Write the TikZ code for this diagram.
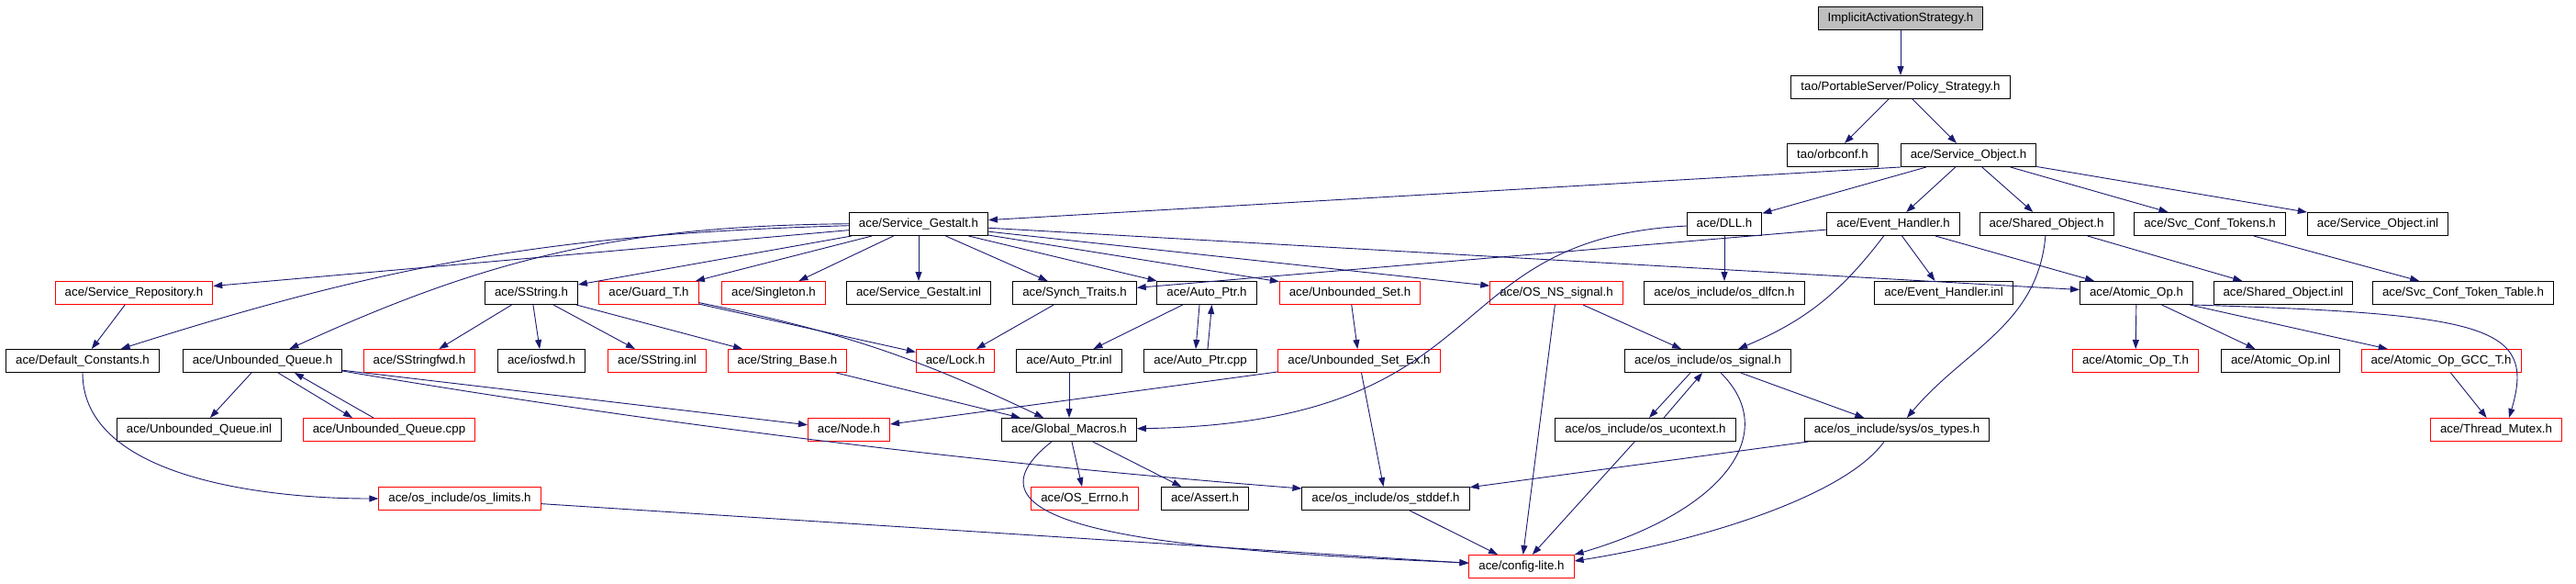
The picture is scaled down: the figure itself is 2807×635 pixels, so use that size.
\documentclass[tikz,border=0pt]{standalone}
\usepackage{fontspec}
\setmainfont{Liberation Sans}
\usetikzlibrary{arrows.meta, positioning}
\definecolor{edgeblue}{HTML}{191970}

\begin{document}
\begin{tikzpicture}[
    x=1pt, y=1pt,
    file_node/.style={draw=black, line width=1pt, inner xsep=10.5pt, inner ysep=6.3pt, text height=9.5pt, text depth=2.9pt, font=\fontsize{13.3}{16}\selectfont},
    red_node/.style={file_node, draw=red},
    root_node/.style={file_node, fill=gray!50},
    inc_edge/.style={draw=edgeblue, line width=0.9pt, -{Stealth[length=10pt, width=7pt, inset=0pt]}}
]
\useasboundingbox (0,0) rectangle (2807,-635);

% Rows 1 to 3 - the strategy header and its direct includes
\node[root_node] (implicit) at (2071,-20) {ImplicitActivationStrategy.h};
\node[file_node] (policy) at (2071,-95) {tao/PortableServer/Policy\_Strategy.h};
\node[file_node] (orbconf) at (1997,-169) {tao/orbconf.h};
\node[file_node] (svcobj) at (2145,-169) {ace/Service\_Object.h};

% Row 4
\node[file_node] (gestalt) at (1001,-244) {ace/Service\_Gestalt.h};
\node[file_node] (dll) at (1879,-244) {ace/DLL.h};
\node[file_node] (evh) at (2063,-244) {ace/Event\_Handler.h};
\node[file_node] (shobj) at (2230,-244) {ace/Shared\_Object.h};
\node[file_node] (tokens) at (2408,-244) {ace/Svc\_Conf\_Tokens.h};
\node[file_node] (svcobjinl) at (2591,-244) {ace/Service\_Object.inl};

% Row 5
\node[red_node] (repo) at (146,-319) {ace/Service\_Repository.h};
\node[file_node] (sstring) at (579,-319) {ace/SString.h};
\node[red_node] (guard) at (707,-319) {ace/Guard\_T.h};
\node[red_node] (singleton) at (843,-319) {ace/Singleton.h};
\node[file_node] (gestaltinl) at (1001,-319) {ace/Service\_Gestalt.inl};
\node[file_node] (synch) at (1171,-319) {ace/Synch\_Traits.h};
\node[file_node] (autoptr) at (1315,-319) {ace/Auto\_Ptr.h};
\node[red_node] (uset) at (1471,-319) {ace/Unbounded\_Set.h};
\node[red_node] (nssignal) at (1696,-319) {ace/OS\_NS\_signal.h};
\node[file_node] (dlfcn) at (1879,-319) {ace/os\_include/os\_dlfcn.h};
\node[file_node] (evhinl) at (2118,-319) {ace/Event\_Handler.inl};
\node[file_node] (atomic) at (2328,-319) {ace/Atomic\_Op.h};
\node[file_node] (shobjinl) at (2488,-319) {ace/Shared\_Object.inl};
\node[file_node] (tokentable) at (2684,-319) {ace/Svc\_Conf\_Token\_Table.h};

% Row 6
\node[file_node] (defconst) at (90,-393) {ace/Default\_Constants.h};
\node[file_node] (uqueue) at (286,-393) {ace/Unbounded\_Queue.h};
\node[red_node] (sstringfwd) at (457,-393) {ace/SStringfwd.h};
\node[file_node] (iosfwd) at (590,-393) {ace/iosfwd.h};
\node[red_node] (sstringinl) at (716,-393) {ace/SString.inl};
\node[red_node] (strbase) at (858,-393) {ace/String\_Base.h};
\node[red_node] (lock) at (1041,-393) {ace/Lock.h};
\node[file_node] (autoptrinl) at (1165,-393) {ace/Auto\_Ptr.inl};
\node[file_node] (autoptrcpp) at (1308,-393) {ace/Auto\_Ptr.cpp};
\node[red_node] (usetex) at (1481,-393) {ace/Unbounded\_Set\_Ex.h};
\node[file_node] (ossignal) at (1861,-393) {ace/os\_include/os\_signal.h};
\node[red_node] (atomict) at (2327,-393) {ace/Atomic\_Op\_T.h};
\node[file_node] (atomicinl) at (2485,-393) {ace/Atomic\_Op.inl};
\node[red_node] (atomicgcc) at (2660,-393) {ace/Atomic\_Op\_GCC\_T.h};

% Row 7
\node[file_node] (uqueueinl) at (217,-468) {ace/Unbounded\_Queue.inl};
\node[red_node] (uqueuecpp) at (424,-468) {ace/Unbounded\_Queue.cpp};
\node[red_node] (node) at (925,-468) {ace/Node.h};
\node[file_node] (gmacros) at (1165,-468) {ace/Global\_Macros.h};
\node[file_node] (ucontext) at (1793,-468) {ace/os\_include/os\_ucontext.h};
\node[file_node] (ostypes) at (2067,-468) {ace/os\_include/sys/os\_types.h};
\node[red_node] (mutex) at (2720,-468) {ace/Thread\_Mutex.h};

% Rows 8 and 9
\node[red_node] (limits) at (501,-543) {ace/os\_include/os\_limits.h};
\node[red_node] (errno) at (1182,-543) {ace/OS\_Errno.h};
\node[file_node] (assert) at (1313,-543) {ace/Assert.h};
\node[file_node] (stddef) at (1510,-543) {ace/os\_include/os\_stddef.h};
\node[red_node] (config) at (1658,-617) {ace/config-lite.h};

% Includes of the upper headers
\draw[inc_edge] (implicit) -- (policy);
\draw[inc_edge] (policy) -- (orbconf);
\draw[inc_edge] (policy) -- (svcobj);
\draw[inc_edge] (svcobj.south west) -- (gestalt);
\draw[inc_edge] (svcobj) -- (dll);
\draw[inc_edge] (svcobj) -- (evh);
\draw[inc_edge] (svcobj) -- (shobj);
\draw[inc_edge] (svcobj) -- (tokens);
\draw[inc_edge] (svcobj) -- (svcobjinl);

% Fan out of Service_Gestalt.h
\draw[inc_edge] (gestalt) -- (repo);
\draw[inc_edge] (gestalt) to[bend right=8] (defconst);
\draw[inc_edge] (gestalt) to[bend right=12] (uqueue);
\draw[inc_edge] (gestalt) -- (sstring);
\draw[inc_edge] (gestalt) -- (guard);
\draw[inc_edge] (gestalt) -- (singleton);
\draw[inc_edge] (gestalt) -- (gestaltinl);
\draw[inc_edge] (gestalt) -- (synch);
\draw[inc_edge] (gestalt) -- (autoptr);
\draw[inc_edge] (gestalt) -- (uset);
\draw[inc_edge] (gestalt) -- (nssignal);
\draw[inc_edge] (gestalt) -- (atomic);

% DLL, Event_Handler, Shared_Object, Svc_Conf_Tokens
\draw[inc_edge] (dll) .. controls +(-319,-16) and +(475,8) .. (gmacros);
\draw[inc_edge] (dll) -- (dlfcn);
\draw[inc_edge] (evh) -- (synch);
\draw[inc_edge] (evh) to[bend left=15] (ossignal);
\draw[inc_edge] (evh) -- (evhinl);
\draw[inc_edge] (evh) -- (atomic);
\draw[inc_edge] (shobj) to[out=-95, in=50] (ostypes);
\draw[inc_edge] (shobj) -- (shobjinl);
\draw[inc_edge] (tokens) -- (tokentable);

% Row 5 headers
\draw[inc_edge] (repo) -- (defconst);
\draw[inc_edge] (sstring) -- (sstringfwd);
\draw[inc_edge] (sstring) -- (iosfwd);
\draw[inc_edge] (sstring) -- (sstringinl);
\draw[inc_edge] (sstring) -- (strbase);
\draw[inc_edge] (guard) -- (lock);
\draw[inc_edge] (guard) to[bend left=7] (gmacros);
\draw[inc_edge] (synch) -- (lock);
\draw[inc_edge] (autoptr) -- (autoptrinl);
\draw[inc_edge] ([xshift=-8pt]autoptr.south) -- ([xshift=-5pt]autoptrcpp.north);
\draw[inc_edge] ([xshift=8pt]autoptrcpp.north) -- ([xshift=5.5pt]autoptr.south);
\draw[inc_edge] (uset) -- (usetex);
\draw[inc_edge] (nssignal) -- (ossignal);
\draw[inc_edge] (nssignal) -- (config);
\draw[inc_edge] (atomic) -- (atomict);
\draw[inc_edge] (atomic) -- (atomicinl);
\draw[inc_edge] (atomic) -- (atomicgcc);
\draw[inc_edge] (atomic.south east) .. controls +(320,-10) and +(30,100) .. ([xshift=14pt]mutex.north);

% Row 6 headers
\draw[inc_edge] (defconst) to[out=-90, in=180, looseness=0.85] (limits);
\draw[inc_edge] (uqueue) -- (uqueueinl);
\draw[inc_edge] ([xshift=17pt]uqueue.south) -- ([xshift=-40pt]uqueuecpp.north);
\draw[inc_edge] ([xshift=-17pt]uqueuecpp.north) -- ([xshift=35pt]uqueue.south);
\draw[inc_edge] (uqueue) -- (node);
\draw[inc_edge] ([yshift=-11pt]uqueue.east) .. controls +(348,-59) and +(-348,27) .. ([yshift=11pt]stddef.west);
\draw[inc_edge] (strbase) -- (gmacros);
\draw[inc_edge] (autoptrinl) -- (gmacros);
\draw[inc_edge] (usetex) -- (node);
\draw[inc_edge] (usetex) -- (stddef);
\draw[inc_edge] ([xshift=-19pt]ossignal.south) -- ([xshift=4pt]ucontext.north);
\draw[inc_edge] ([xshift=20pt]ucontext.north) -- ([xshift=-6pt]ossignal.south);
\draw[inc_edge] ([xshift=14pt]ossignal.south) .. controls +(65,-64) and +(167,49) .. (config.north east);
\draw[inc_edge] (ossignal) -- (ostypes);
\draw[inc_edge] (atomicgcc) -- (mutex);

% Lower headers down to config-lite.h
\draw[inc_edge] ([xshift=-19pt]gmacros.south) .. controls +(-126,-99) and +(-300,13) .. ([yshift=4pt]config.west);
\draw[inc_edge] (gmacros) -- (errno);
\draw[inc_edge] (gmacros) -- (assert);
\draw[inc_edge] (ucontext) -- (config);
\draw[inc_edge] ([xshift=-14pt]ostypes.south) .. controls +(-43,-60) and +(134,21) .. ([yshift=6pt]config.east);
\draw[inc_edge] (ostypes) -- (stddef);
\draw[inc_edge] (limits) -- (config);
\draw[inc_edge] (stddef) -- (config);

\end{tikzpicture}
\end{document}
